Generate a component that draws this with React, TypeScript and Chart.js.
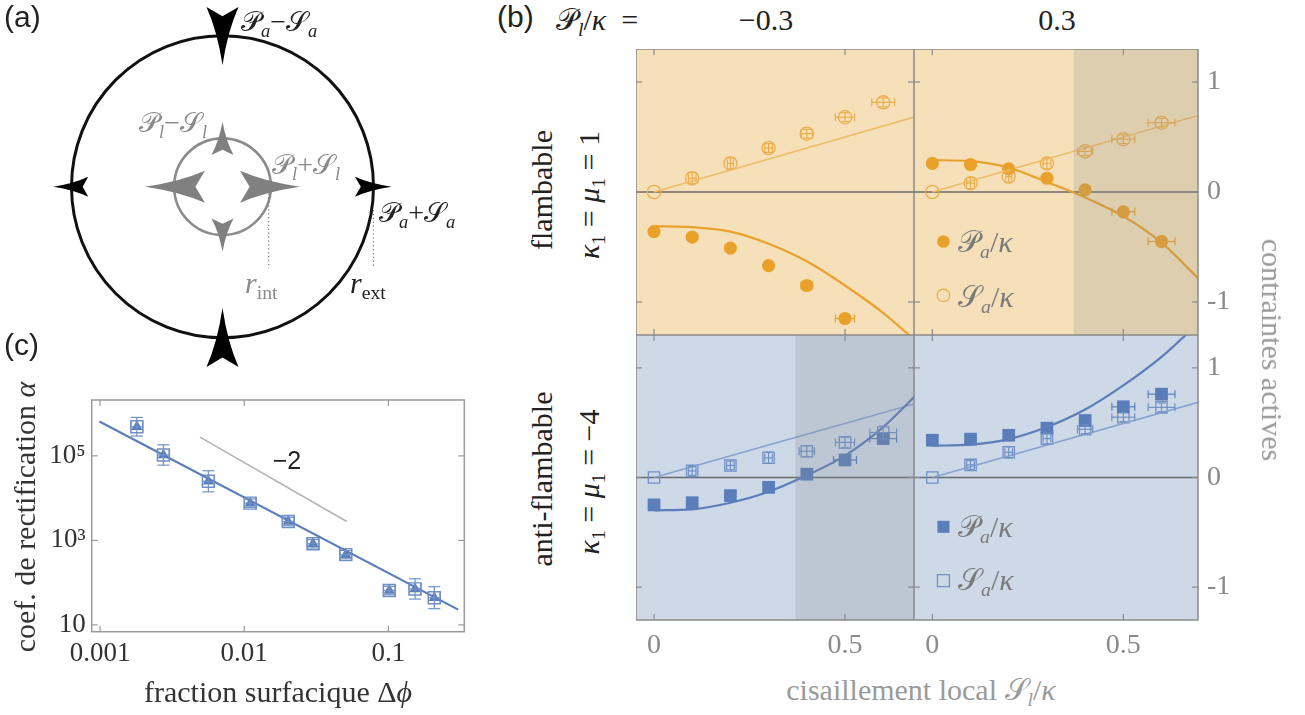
import React, { useEffect, useRef } from 'react';
import { Chart, registerables } from 'chart.js';
Chart.register(...registerables);

// ---------------- fonts / colours ----------------
const SERIF = "'Liberation Serif', 'DejaVu Serif', serif";
const SANS = "'Liberation Sans', 'DejaVu Sans', sans-serif";
const SCRIPT = "'DejaVu Sans', 'DejaVu Serif', serif";

const ORANGE = '#E9A12B';
const ORANGE_OPEN = '#EBAE4A';
const ORANGE_LINE = '#EFBC66';
const BLUE = '#5A7EBA';
const BLUE_OPEN = '#7090C6';
const BLUE_LINE = '#88A2CF';
const TOP_BG = '#F5E0BA';
const TOP_SHADE = 'rgba(140,140,140,0.22)';
const BOT_BG = '#CDD9E7';
const BOT_SHADE = 'rgba(140,142,150,0.24)';

// ---------------- panel (a) diagram ----------------
const A_OUTER_R = 1;
const A_INNER_R = 0.32;
// [tipX, tipY, backX, backY, halfWidth]
const A_OUTER_ARROWS = [
  [0, 0.806, 0, 1.19, 0.106],
  [0, -0.803, 0, -1.194, 0.106],
  [-1.12, 0, -0.889, 0, 0.066],
  [1.12, 0, 0.877, 0, 0.066],
];
const A_INNER_ARROWS = [
  [0, 0.43, 0, 0.21, 0.073],
  [0, -0.43, 0, -0.21, 0.073],
  [-0.513, 0, -0.116, 0, 0.106],
  [0.513, 0, 0.116, 0, 0.106],
];
const A_DOTTED = [
  [0.306, -0.02, 0.306, -0.54],
  [0.999, -0.154, 0.999, -0.54],
];

// ---------------- panel (b) data ----------------
const B_X_TICKS = [0, 0.5];
const B_X_TICK_LABELS = ['0', '0.5'];
const B_Y_TICKS = [1, 0, -1];
const B_Y_TICK_LABELS = ['1', '0', '-1'];
const B_COLUMN_TITLES = ['−0.3', '0.3'];

const SHEAR_TL_P = [0, 0.1, 0.2, 0.3, 0.4, 0.5];
const SHEAR = [0, 0.1, 0.2, 0.3, 0.4, 0.5, 0.6];
const FIT_X = [0, 0.1, 0.2, 0.3, 0.4, 0.5, 0.6, 0.7];
const S_FIT_X = [0, 0.7];

// flambable, P_l/kappa = -0.3
const TL_P = [-0.36, -0.41, -0.51, -0.67, -0.85, -1.15];
const TL_P_XERR = [0, 0, 0, 0, 0.015, 0.025];
const TL_P_YERR = [0, 0, 0, 0, 0.02, 0.02];
const TL_S = [0, 0.125, 0.26, 0.4, 0.53, 0.68, 0.815];
const TL_S_XERR = [0, 0.01, 0.008, 0.01, 0.015, 0.025, 0.03];
const TL_S_YERR = [0, 0.05, 0.05, 0.04, 0.04, 0.04, 0.04];
const TL_P_FIT = [-0.31, -0.32, -0.36, -0.47, -0.63, -0.85, -1.1, -1.4];
const TL_S_FIT = [0, 0.7];

// flambable, P_l/kappa = 0.3
const TR_P = [0.26, 0.25, 0.21, 0.125, 0.02, -0.18, -0.45];
const TR_P_XERR = [0, 0, 0, 0, 0.01, 0.03, 0.035];
const TR_P_YERR = [0, 0, 0, 0, 0, 0, 0];
const TR_S = [0, 0.08, 0.14, 0.26, 0.37, 0.48, 0.63];
const TR_S_XERR = [0, 0.01, 0.008, 0.01, 0.02, 0.03, 0.035];
const TR_S_YERR = [0, 0.05, 0.05, 0.05, 0.04, 0.04, 0.04];
const TR_P_FIT = [0.29, 0.28, 0.22, 0.09, -0.05, -0.22, -0.46, -0.8];
const TR_S_FIT = [0, 0.7];
const TR_SHADE_FROM = 0.37;

// anti-flambable, P_l/kappa = -0.3
const BL_P = [-0.25, -0.23, -0.165, -0.09, 0.03, 0.16, 0.355];
const BL_P_XERR = [0, 0, 0, 0, 0.01, 0.03, 0.035];
const BL_P_YERR = [0, 0, 0, 0, 0, 0, 0.03];
const BL_S = [0, 0.06, 0.11, 0.18, 0.24, 0.32, 0.41];
const BL_S_XERR = [0, 0.01, 0.01, 0.01, 0.02, 0.025, 0.035];
const BL_S_YERR = [0, 0.04, 0.04, 0.05, 0.05, 0.05, 0.06];
const BL_P_FIT = [-0.3, -0.29, -0.23, -0.13, 0.02, 0.2, 0.46, 0.8];
const BL_S_FIT = [0, 0.69];
const BL_SHADE_FROM = 0.37;

// anti-flambable, P_l/kappa = 0.3
const BR_P = [0.34, 0.35, 0.385, 0.45, 0.52, 0.645, 0.76];
const BR_P_XERR = [0, 0, 0, 0, 0.01, 0.03, 0.035];
const BR_P_YERR = [0, 0, 0, 0.03, 0.03, 0.04, 0.04];
const BR_S = [0, 0.115, 0.23, 0.355, 0.44, 0.55, 0.64];
const BR_S_XERR = [0, 0.01, 0.01, 0.01, 0.02, 0.03, 0.035];
const BR_S_YERR = [0, 0.04, 0.05, 0.05, 0.04, 0.04, 0.04];
const BR_P_FIT = [0.29, 0.3, 0.35, 0.46, 0.62, 0.84, 1.1, 1.42];
const BR_S_FIT = [0, 0.69];

const LEGEND_X = 0.029;
const LEGEND_Y = [-0.45, -0.94];

// ---------------- panel (c) data ----------------
const C_X_TICKS = [0.001, 0.01, 0.1];
const C_X_TICK_LABELS = ['0.001', '0.01', '0.1'];
const C_Y_TICKS = [10, 1000, 100000];
const C_Y_TICK_LABELS = ['10', '10³', '10⁵'];
const C_PHI = [0.0018, 0.00275, 0.00564, 0.011, 0.0202, 0.03, 0.0506, 0.1014, 0.153, 0.208];
const C_ALPHA = [4.9e5, 1.05e5, 2.5e4, 7.6e3, 2.8e3, 830, 460, 65, 71, 44];
const C_ALPHA_ERR_DEC = [0.22, 0.24, 0.25, 0.1, 0.1, 0.1, 0.1, 0.1, 0.24, 0.26];
const C_PHI_ERR_DEC = [0.04, 0.04, 0.04, 0.04, 0.04, 0.04, 0.04, 0.04, 0.04, 0.04];
const C_FIT_PHI = [0.00099, 0.305];
const C_FIT_ALPHA = [6.5e5, 23];
const C_SLOPE_PHI = [0.00493, 0.0514];
const C_SLOPE_ALPHA = [2.77e5, 2.8e3];

// ---------------- helpers ----------------
const pts = (xs: number[], ys: number[]) => ys.map((y, i) => ({ x: xs[i], y }));

function markerDs(xs: number[], ys: number[], xerr: number[], yerr: number[], style: string, filled: boolean, color: string, radius: number) {
  return {
    data: pts(xs, ys),
    pointStyle: style,
    pointRadius: radius,
    pointHoverRadius: radius,
    pointBackgroundColor: filled ? color : 'rgba(0,0,0,0)',
    pointBorderColor: color,
    pointBorderWidth: filled ? 0 : 1.3,
    backgroundColor: filled ? color : 'rgba(0,0,0,0)',
    borderColor: color,
    errX: xerr,
    errY: yerr,
    errColor: color,
  };
}

function fitDs(xs: number[], ys: number[], color: string, width: number) {
  return {
    type: 'line',
    data: pts(xs, ys),
    borderColor: color,
    borderWidth: width,
    pointRadius: 0,
    pointHoverRadius: 0,
    cubicInterpolationMode: 'monotone',
    fill: false,
  };
}

function seg(ctx: CanvasRenderingContext2D, x1: number, y1: number, x2: number, y2: number) {
  ctx.beginPath();
  ctx.moveTo(x1, y1);
  ctx.lineTo(x2, y2);
  ctx.stroke();
}

function drawErrorBars(chart: any, logMode: boolean, cap: number) {
  const { ctx, scales: { x, y } } = chart;
  ctx.save();
  chart.data.datasets.forEach((ds: any) => {
    if (!ds.errX && !ds.errY) return;
    ctx.strokeStyle = ds.errColor;
    ctx.lineWidth = 1.2;
    ds.data.forEach((p: any, j: number) => {
      const px = x.getPixelForValue(p.x);
      const py = y.getPixelForValue(p.y);
      const ex = ds.errX ? ds.errX[j] : 0;
      const ey = ds.errY ? ds.errY[j] : 0;
      if (ex > 0) {
        const x1 = x.getPixelForValue(logMode ? p.x / Math.pow(10, ex) : p.x - ex);
        const x2 = x.getPixelForValue(logMode ? p.x * Math.pow(10, ex) : p.x + ex);
        seg(ctx, x1, py, x2, py);
        seg(ctx, x1, py - cap, x1, py + cap);
        seg(ctx, x2, py - cap, x2, py + cap);
      }
      if (ey > 0) {
        const y1 = y.getPixelForValue(logMode ? p.y / Math.pow(10, ey) : p.y - ey);
        const y2 = y.getPixelForValue(logMode ? p.y * Math.pow(10, ey) : p.y + ey);
        seg(ctx, px, y1, px, y2);
        seg(ctx, px - cap, y1, px + cap, y1);
        seg(ctx, px - cap, y2, px + cap, y2);
      }
    });
  });
  ctx.restore();
}

function drawFrame(chart: any, xt: number[], yt: number[], color: string, len: number) {
  const { ctx, chartArea: a, scales: { x, y } } = chart;
  ctx.save();
  ctx.strokeStyle = color;
  ctx.lineWidth = 1.5;
  ctx.strokeRect(a.left, a.top, a.right - a.left, a.bottom - a.top);
  ctx.lineWidth = 1.2;
  xt.forEach((v) => {
    const px = x.getPixelForValue(v);
    seg(ctx, px, a.top, px, a.top + len);
    seg(ctx, px, a.bottom, px, a.bottom - len);
  });
  yt.forEach((v) => {
    const py = y.getPixelForValue(v);
    seg(ctx, a.left, py, a.left + len, py);
    seg(ctx, a.right, py, a.right - len, py);
  });
  ctx.restore();
}

function marker(ctx: CanvasRenderingContext2D, style: string, filled: boolean, color: string, px: number, py: number, r: number) {
  ctx.beginPath();
  if (style === 'circle') ctx.arc(px, py, r, 0, Math.PI * 2);
  else ctx.rect(px - r, py - r, 2 * r, 2 * r);
  if (filled) {
    ctx.fillStyle = color;
    ctx.fill();
  } else {
    ctx.strokeStyle = color;
    ctx.lineWidth = 1.3;
    ctx.stroke();
  }
}

const baseOptions = {
  animation: false,
  responsive: false,
  devicePixelRatio: 1,
  events: [],
  plugins: { legend: { display: false }, tooltip: { enabled: false } },
};

// fix an axis' thickness and drop the label overflow padding
const fitTo = (dim: 'width' | 'height', size: number) => (s: any) => {
  s[dim] = size;
  s.paddingTop = 0;
  s.paddingBottom = 0;
  s.paddingLeft = 0;
  s.paddingRight = 0;
};

// ---------------- panel (a) config ----------------
function arrowHead(ctx: CanvasRenderingContext2D, tx: number, ty: number, bx: number, by: number, hw: number) {
  const dx = tx - bx, dy = ty - by;
  const L = Math.hypot(dx, dy);
  const ux = dx / L, uy = dy / L;
  const nx = -uy, ny = ux;
  ctx.beginPath();
  ctx.moveTo(tx, ty);
  ctx.quadraticCurveTo(bx + ux * L * 0.42 + nx * hw * 0.32, by + uy * L * 0.42 + ny * hw * 0.32, bx + nx * hw, by + ny * hw);
  ctx.lineTo(bx + ux * L * 0.16, by + uy * L * 0.16);
  ctx.lineTo(bx - nx * hw, by - ny * hw);
  ctx.quadraticCurveTo(bx + ux * L * 0.42 - nx * hw * 0.32, by + uy * L * 0.42 - ny * hw * 0.32, tx, ty);
  ctx.closePath();
  ctx.fill();
}

function diagramConfig(): any {
  const plugin = {
    id: 'diagram',
    afterDraw(chart: any) {
      const { ctx, scales: { x, y } } = chart;
      const X = (v: number) => x.getPixelForValue(v);
      const Y = (v: number) => y.getPixelForValue(v);
      const cx = X(0), cy = Y(0);
      const rp = (r: number) => X(r) - X(0);
      ctx.save();
      ctx.lineWidth = 3;
      ctx.strokeStyle = '#111';
      ctx.beginPath();
      ctx.arc(cx, cy, rp(A_OUTER_R), 0, Math.PI * 2);
      ctx.stroke();
      ctx.lineWidth = 2.6;
      ctx.strokeStyle = '#8c8c8c';
      ctx.beginPath();
      ctx.arc(cx, cy, rp(A_INNER_R), 0, Math.PI * 2);
      ctx.stroke();
      ctx.setLineDash([1.3, 2.6]);
      ctx.lineWidth = 1;
      ctx.strokeStyle = '#666';
      A_DOTTED.forEach((d) => seg(ctx, X(d[0]), Y(d[1]), X(d[2]), Y(d[3])));
      ctx.setLineDash([]);
      ctx.fillStyle = '#808080';
      A_INNER_ARROWS.forEach((a) => arrowHead(ctx, X(a[0]), Y(a[1]), X(a[2]), Y(a[3]), rp(a[4])));
      ctx.fillStyle = '#000';
      A_OUTER_ARROWS.forEach((a) => arrowHead(ctx, X(a[0]), Y(a[1]), X(a[2]), Y(a[3]), rp(a[4])));
      ctx.restore();
    },
  };
  return {
    type: 'scatter',
    data: { datasets: [] },
    options: {
      ...baseOptions,
      layout: { padding: 0, autoPadding: false },
      scales: {
        x: { type: 'linear', display: false, min: -1.4735, max: 1.7053 },
        y: { type: 'linear', display: false, min: -1.28, max: 1.2364 },
      },
    },
    plugins: [plugin],
  };
}

// ---------------- panel (b) config ----------------
interface SubOpts {
  xMin: number;
  xMax: number;
  bottom: boolean;
  right: boolean;
  bg: string;
  shade: string;
  shadeFrom: number | null;
  datasets: any[];
  legend?: { style: string; color: string; openColor: string; r: number };
}

function subplotConfig(o: SubOpts): any {
  const deco = {
    id: 'deco',
    beforeDatasetsDraw(chart: any) {
      const { ctx, chartArea: a, scales: { y } } = chart;
      ctx.save();
      ctx.fillStyle = o.bg;
      ctx.fillRect(a.left, a.top, a.right - a.left, a.bottom - a.top);
      const y0 = y.getPixelForValue(0);
      ctx.strokeStyle = '#6a6a6a';
      ctx.lineWidth = 1.3;
      seg(ctx, a.left, y0, a.right, y0);
      ctx.restore();
    },
    afterDatasetsDraw(chart: any) {
      const { ctx, chartArea: a, scales: { x, y } } = chart;
      drawErrorBars(chart, false, 4);
      ctx.save();
      if (o.shadeFrom !== null) {
        const sx = x.getPixelForValue(o.shadeFrom);
        ctx.fillStyle = o.shade;
        ctx.fillRect(sx, a.top, a.right - sx, a.bottom - a.top);
      }
      if (o.legend) {
        const lg = o.legend;
        const px = x.getPixelForValue(LEGEND_X);
        marker(ctx, lg.style, true, lg.color, px, y.getPixelForValue(LEGEND_Y[0]), lg.r);
        marker(ctx, lg.style, false, lg.openColor, px, y.getPixelForValue(LEGEND_Y[1]), lg.r);
      }
      ctx.restore();
      drawFrame(chart, B_X_TICKS, B_Y_TICKS, '#8a8a8a', 6);
    },
  };
  const tickFont = { family: SERIF, size: 28 };
  return {
    type: 'scatter',
    data: { datasets: o.datasets },
    options: {
      ...baseOptions,
      layout: { padding: 0, autoPadding: false },
      scales: {
        x: {
          type: 'linear',
          position: 'bottom',
          min: o.xMin,
          max: o.xMax,
          display: o.bottom,
          grid: { display: false, drawTicks: false },
          border: { display: false },
          ticks: {
            font: tickFont,
            color: '#8a8a8a',
            padding: 9,
            autoSkip: false,
            maxRotation: 0,
            callback: (_v: any, i: number) => B_X_TICK_LABELS[i],
          },
          afterBuildTicks: (s: any) => {
            s.ticks = B_X_TICKS.map((v) => ({ value: v }));
          },
          afterFit: o.bottom ? fitTo('height', 45) : undefined,
        },
        y: {
          type: 'linear',
          position: 'right',
          min: -1.3,
          max: 1.3,
          display: o.right,
          grid: { display: false, drawTicks: false },
          border: { display: false },
          ticks: {
            font: tickFont,
            color: '#8a8a8a',
            padding: 9,
            autoSkip: false,
            callback: (_v: any, i: number) => B_Y_TICK_LABELS[i],
          },
          afterBuildTicks: (s: any) => {
            s.ticks = B_Y_TICKS.map((v) => ({ value: v }));
          },
          afterFit: o.right ? fitTo('width', 60) : undefined,
        },
      },
    },
    plugins: [deco],
  };
}

const TL_X = [-0.0471, 0.6806];
const TR_X = [-0.048, 0.6955];

const tlConfig = () =>
  subplotConfig({
    xMin: TL_X[0], xMax: TL_X[1], bottom: false, right: false, bg: TOP_BG, shade: TOP_SHADE, shadeFrom: null,
    datasets: [
      fitDs(FIT_X, TL_P_FIT, ORANGE, 2.2),
      fitDs(S_FIT_X, TL_S_FIT, ORANGE_LINE, 1.5),
      markerDs(SHEAR_TL_P, TL_P, TL_P_XERR, TL_P_YERR, 'circle', true, ORANGE, 6.6),
      markerDs(SHEAR, TL_S, TL_S_XERR, TL_S_YERR, 'circle', false, ORANGE_OPEN, 6.6),
    ],
  });

const trConfig = () =>
  subplotConfig({
    xMin: TR_X[0], xMax: TR_X[1], bottom: false, right: true, bg: TOP_BG, shade: TOP_SHADE, shadeFrom: TR_SHADE_FROM,
    datasets: [
      fitDs(FIT_X, TR_P_FIT, ORANGE, 2.2),
      fitDs(S_FIT_X, TR_S_FIT, ORANGE_LINE, 1.5),
      markerDs(SHEAR, TR_P, TR_P_XERR, TR_P_YERR, 'circle', true, ORANGE, 6.6),
      markerDs(SHEAR, TR_S, TR_S_XERR, TR_S_YERR, 'circle', false, ORANGE_OPEN, 6.6),
    ],
    legend: { style: 'circle', color: ORANGE, openColor: ORANGE_OPEN, r: 6.3 },
  });

const blConfig = () =>
  subplotConfig({
    xMin: TL_X[0], xMax: TL_X[1], bottom: true, right: false, bg: BOT_BG, shade: BOT_SHADE, shadeFrom: BL_SHADE_FROM,
    datasets: [
      fitDs(FIT_X, BL_P_FIT, BLUE, 2.2),
      fitDs(S_FIT_X, BL_S_FIT, BLUE_LINE, 1.5),
      markerDs(SHEAR, BL_P, BL_P_XERR, BL_P_YERR, 'rect', true, BLUE, 9),
      markerDs(SHEAR, BL_S, BL_S_XERR, BL_S_YERR, 'rect', false, BLUE_OPEN, 8),
    ],
  });

const brConfig = () =>
  subplotConfig({
    xMin: TR_X[0], xMax: TR_X[1], bottom: true, right: true, bg: BOT_BG, shade: BOT_SHADE, shadeFrom: null,
    datasets: [
      fitDs(FIT_X, BR_P_FIT, BLUE, 2.2),
      fitDs(S_FIT_X, BR_S_FIT, BLUE_LINE, 1.5),
      markerDs(SHEAR, BR_P, BR_P_XERR, BR_P_YERR, 'rect', true, BLUE, 9),
      markerDs(SHEAR, BR_S, BR_S_XERR, BR_S_YERR, 'rect', false, BLUE_OPEN, 8),
    ],
    legend: { style: 'rect', color: BLUE, openColor: BLUE_OPEN, r: 6 },
  });

// ---------------- panel (c) config ----------------
function panelCConfig(): any {
  const deco = {
    id: 'cdeco',
    afterDatasetsDraw(chart: any) {
      drawErrorBars(chart, true, 6);
      drawFrame(chart, C_X_TICKS, C_Y_TICKS, '#9a9a9a', 6);
    },
  };
  const tickFont = { family: SERIF, size: 27 };
  return {
    type: 'scatter',
    data: {
      datasets: [
        { type: 'line', data: pts(C_FIT_PHI, C_FIT_ALPHA), borderColor: BLUE, borderWidth: 2.2, pointRadius: 0, fill: false },
        { type: 'line', data: pts(C_SLOPE_PHI, C_SLOPE_ALPHA), borderColor: '#b3b3b3', borderWidth: 1.5, pointRadius: 0, fill: false },
        {
          data: pts(C_PHI, C_ALPHA), pointStyle: 'triangle', pointRadius: 6.5, pointHoverRadius: 6.5,
          pointBackgroundColor: BLUE, pointBorderWidth: 0, backgroundColor: BLUE, borderColor: BLUE,
        },
        {
          data: pts(C_PHI, C_ALPHA), pointStyle: 'rect', pointRadius: 8.5, pointHoverRadius: 8.5,
          pointBackgroundColor: 'rgba(0,0,0,0)', pointBorderColor: BLUE_OPEN, pointBorderWidth: 1.4,
          backgroundColor: 'rgba(0,0,0,0)', borderColor: BLUE_OPEN,
          errX: C_PHI_ERR_DEC, errY: C_ALPHA_ERR_DEC, errColor: BLUE_OPEN,
        },
      ],
    },
    options: {
      ...baseOptions,
      layout: { padding: { top: 20, right: 15.7, left: 0, bottom: 0 }, autoPadding: false },
      scales: {
        x: {
          type: 'logarithmic', position: 'bottom', min: 0.000875, max: 0.336,
          grid: { display: false, drawTicks: false }, border: { display: false },
          ticks: { font: tickFont, color: '#333', padding: 6, autoSkip: false, maxRotation: 0, callback: (_v: any, i: number) => C_X_TICK_LABELS[i] },
          afterBuildTicks: (s: any) => { s.ticks = C_X_TICKS.map((v) => ({ value: v })); },
          afterFit: fitTo('height', 48.3),
        },
        y: {
          type: 'logarithmic', position: 'left', min: 6.9, max: 2.1e6,
          grid: { display: false, drawTicks: false }, border: { display: false },
          ticks: { font: tickFont, color: '#333', padding: 6, autoSkip: false, callback: (_v: any, i: number) => C_Y_TICK_LABELS[i] },
          afterBuildTicks: (s: any) => { s.ticks = C_Y_TICKS.map((v) => ({ value: v })); },
          afterFit: fitTo('width', 91.7),
        },
      },
    },
    plugins: [deco],
  };
}

// ---------------- components ----------------
function ChartBox({ left, top, width, height, make }: { left: number; top: number; width: number; height: number; make: () => any }) {
  const ref = useRef<HTMLCanvasElement>(null);
  useEffect(() => {
    const chart = new Chart(ref.current as HTMLCanvasElement, make());
    return () => chart.destroy();
  }, []);
  return <canvas ref={ref} width={width} height={height} style={{ position: 'absolute', left, top, width, height }} />;
}

function Txt({ x, y, size = 30, color = '#222', font = SERIF, rot = 0, align = 'center', children }: any) {
  const tx = align === 'left' ? '0' : align === 'right' ? '-100%' : '-50%';
  return (
    <div
      style={{
        position: 'absolute', left: x, top: y, fontSize: size, color, fontFamily: font, lineHeight: 1,
        whiteSpace: 'nowrap', transform: `translate(${tx}, -50%) rotate(${rot}deg)`,
      }}
    >
      {children}
    </div>
  );
}

const Sub = ({ children, it = true }: any) => (
  <sub style={{ fontSize: '0.66em', verticalAlign: '-0.3em', lineHeight: 0, fontStyle: it ? 'italic' : 'normal' }}>{children}</sub>
);
const CalP = () => <span style={{ fontFamily: SCRIPT }}>𝒫</span>;
const CalS = () => <span style={{ fontFamily: SCRIPT }}>𝒮</span>;
const I = ({ children }: any) => <i>{children}</i>;

export default function App() {
  return (
    <div style={{ position: 'absolute', left: 0, top: 0, width: 1305, height: 715, background: '#fff', overflow: 'hidden', fontFamily: SERIF }}>
      <ChartBox left={0} top={0} width={480} height={380} make={diagramConfig} />
      <ChartBox left={0} top={380} width={480} height={300} make={panelCConfig} />
      <ChartBox left={636} top={49} width={278} height={286} make={tlConfig} />
      <ChartBox left={914} top={49} width={344} height={286} make={trConfig} />
      <ChartBox left={636} top={335} width={278} height={330} make={blConfig} />
      <ChartBox left={914} top={335} width={344} height={330} make={brConfig} />

      {/* panel labels */}
      <Txt x={4} y={17} font={SANS} size={30} align="left">(a)</Txt>
      <Txt x={4} y={345} font={SANS} size={30} align="left">(c)</Txt>
      <Txt x={497} y={17} font={SANS} size={30} align="left">(b)</Txt>

      {/* panel (a) text */}
      <Txt x={241} y={22} size={28} align="left"><CalP /><Sub>a</Sub>−<CalS /><Sub>a</Sub></Txt>
      <Txt x={139} y={123} size={28} color="#8a8a8a" align="left"><CalP /><Sub>l</Sub>−<CalS /><Sub>l</Sub></Txt>
      <Txt x={272} y={165} size={28} color="#8a8a8a" align="left"><CalP /><Sub>l</Sub>+<CalS /><Sub>l</Sub></Txt>
      <Txt x={379} y={213} size={28} align="left"><CalP /><Sub>a</Sub>+<CalS /><Sub>a</Sub></Txt>
      <Txt x={245} y={283} size={30} color="#8a8a8a" align="left"><I>r</I><Sub it={false}>int</Sub></Txt>
      <Txt x={350} y={283} size={30} align="left"><I>r</I><Sub it={false}>ext</Sub></Txt>

      {/* panel (b) text */}
      <Txt x={556} y={20} size={30} align="left"><CalP /><Sub>l</Sub>/<I>κ</I>{'\u2002'}=</Txt>
      <Txt x={766} y={20} size={30}>{B_COLUMN_TITLES[0]}</Txt>
      <Txt x={1057} y={20} size={30}>{B_COLUMN_TITLES[1]}</Txt>
      <Txt x={542} y={190} size={30} rot={-90}>flambable</Txt>
      <Txt x={589} y={195} size={30} rot={-90}><I>κ</I><Sub it={false}>1</Sub> = <I>μ</I><Sub it={false}>1</Sub> = 1</Txt>
      <Txt x={542} y={479} size={30} rot={-90}>anti-flambable</Txt>
      <Txt x={589} y={482} size={30} rot={-90}><I>κ</I><Sub it={false}>1</Sub> = <I>μ</I><Sub it={false}>1</Sub> = −4</Txt>
      <Txt x={1272} y={350} size={30} rot={90} color="#9a9a9a">contraintes actives</Txt>
      <Txt x={921} y={690} size={30} color="#9a9a9a">cisaillement local <CalS /><Sub>l</Sub>/<I>κ</I></Txt>
      <Txt x={958} y={242} size={30} color="#7a7a7a" align="left"><CalP /><Sub>a</Sub>/<I>κ</I></Txt>
      <Txt x={958} y={297} size={30} color="#7a7a7a" align="left"><CalS /><Sub>a</Sub>/<I>κ</I></Txt>
      <Txt x={958} y={527} size={30} color="#7a7a7a" align="left"><CalP /><Sub>a</Sub>/<I>κ</I></Txt>
      <Txt x={958} y={580} size={30} color="#7a7a7a" align="left"><CalS /><Sub>a</Sub>/<I>κ</I></Txt>

      {/* panel (c) text */}
      <Txt x={25} y={517} size={30} rot={-90} color="#333">coef. de rectification <I>α</I></Txt>
      <Txt x={278} y={692} size={30} color="#333">fraction surfacique Δ<I>ϕ</I></Txt>
      <Txt x={287} y={460} size={25} font={SANS} color="#222">−2</Txt>
    </div>
  );
}
